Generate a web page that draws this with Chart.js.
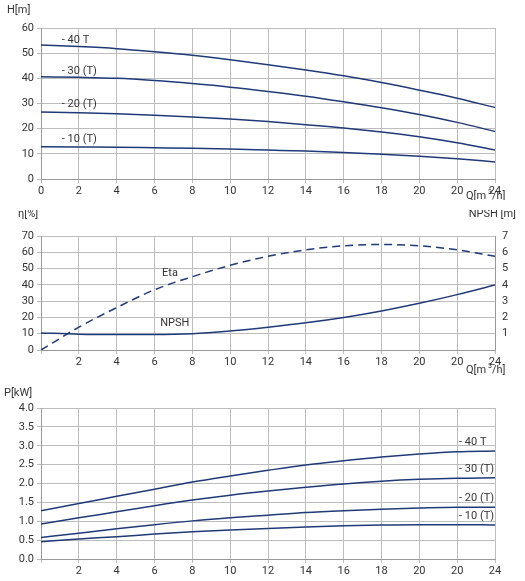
<!DOCTYPE html>
<html><head><meta charset="utf-8">
<script src="https://cdn.jsdelivr.net/npm/chart.js@4"></script>
<style>body{margin:0;background:#fff;width:525px;height:581px;position:relative;overflow:hidden}
.w{position:absolute;left:0;width:525px}</style></head><body>
<div class="w" style="top:0;height:200px"><canvas id="c1"></canvas></div>
<div class="w" style="top:210px;height:175px"><canvas id="c2"></canvas></div>
<div class="w" style="top:385px;height:196px"><canvas id="c3"></canvas></div>
<script>
const q=[0,2,4,6,8,10,12,14,16,18,20,22,24];
const xTicks1=['0','2','4','6','8','10','12','14','16','18','20','20','24'];
const xTicks23=['','2','4','6','8','10','12','14','16','18','20','20','24'];
const seriesNames=['- 40 T','- 30 (T)','- 20 (T)','- 10 (T)'];
const head40=[53.2,52.6,51.8,50.6,49.2,47.4,45.4,43.3,41,38.3,35.3,32.1,28.4];
const head30=[40.6,40.4,40,39.1,37.9,36.5,34.8,32.9,30.7,28.3,25.6,22.5,18.9];
const head20=[26.6,26.3,25.9,25.3,24.6,23.8,22.8,21.6,20.3,18.7,16.8,14.4,11.5];
const head10=[12.8,12.7,12.6,12.4,12.2,11.9,11.5,11.1,10.5,9.8,9.0,8.0,6.8];
const eta=[0,14,26,37,45,52,57.5,61.5,64,64.8,64,61.5,57.5];
const npsh=[1.05,0.97,0.95,0.95,1.0,1.17,1.4,1.67,2.0,2.4,2.87,3.4,4.0];
const pow40=[1.28,1.47,1.66,1.85,2.04,2.2,2.35,2.49,2.6,2.7,2.78,2.84,2.86];
const pow30=[0.93,1.09,1.25,1.41,1.56,1.69,1.8,1.9,1.99,2.06,2.11,2.14,2.15];
const pow20=[0.57,0.68,0.8,0.91,1.01,1.09,1.16,1.23,1.28,1.32,1.35,1.37,1.37];
const pow10=[0.46,0.53,0.59,0.66,0.72,0.77,0.81,0.85,0.88,0.9,0.91,0.91,0.9];

const C='#1f3a78',G='#bdbdbd',T='#333';
Chart.defaults.font.family='Roboto';Chart.defaults.font.size=11;Chart.defaults.color=T;
const pts=a=>a.map((v,i)=>({x:q[i],y:v}));
const ds=(a,extra)=>Object.assign({data:pts(a),borderColor:C,borderWidth:1.5,pointRadius:0,cubicInterpolationMode:'monotone',fill:false},extra||{});
const txt={id:'txt',afterDraw(ch,a,o){const c=ch.ctx;c.save();c.fillStyle=T;c.font='11px Roboto';c.textBaseline='middle';
 (o.items||[]).forEach(it=>{let x=it.px!=null?it.px:ch.scales.x.getPixelForValue(it.x);let y=it.py!=null?it.py:ch.scales[it.ax||'y'].getPixelForValue(it.y);c.textAlign=it.al||'left';
 if(it.sup){c.fillText('Q[m',x,y);c.font='7px Roboto';c.fillText('3',x+22,y-4);c.font='11px Roboto';c.fillText('/h]',x+26,y);}else c.fillText(it.t,x,y);});c.restore();}};
function xScale(labels,h){return {type:'linear',min:0,max:24,afterBuildTicks:s=>{s.ticks=q.map(v=>({value:v}));},
 ticks:{callback:(v,i)=>labels[i],maxRotation:0,autoSkip:false,padding:2},grid:{color:G,drawTicks:true,tickLength:4},border:{color:'#999'},afterFit:s=>{s.height=h;}};}
function yScale(min,max,step,w,fmt,pos,extra){return Object.assign({position:pos||'left',min,max,ticks:{stepSize:step,callback:fmt||(v=>v),padding:3},grid:{color:G,tickLength:4},border:{color:'#999'},afterFit:s=>{s.width=w;}},extra||{});}
const base=(pad)=>({responsive:true,maintainAspectRatio:false,animation:false,layout:{padding:pad},plugins:{legend:{display:false},tooltip:{enabled:false}}});

let o1=base({left:0,right:30,top:28,bottom:0});
o1.scales={x:xScale(xTicks1,21),y:yScale(0,60,10,41)};
o1.plugins.txt={items:[{t:'H[m]',px:7,py:10},
 {t:seriesNames[0],x:1.1,y:55.3},{t:seriesNames[1],x:1.1,y:43},{t:seriesNames[2],x:1.1,y:29.6},{t:seriesNames[3],x:1.1,y:15.8},{sup:1,px:466,py:196}]};
new Chart(c1,{type:'line',data:{datasets:[ds(head40),ds(head30),ds(head20),ds(head10)]},options:o1,plugins:[txt]});

let o2=base({left:0,right:0,top:26,bottom:0});
o2.scales={x:xScale(xTicks23,35),y:yScale(0,70,10,41),
 y2:yScale(0,7,1,30,v=>v===0?'':v,'right',{grid:{display:false,tickLength:4}})};
o2.plugins.txt={items:[{t:'η[%]',px:18,py:4},{t:'NPSH [m]',px:516,py:4,al:'right'},{t:'Eta',x:6.4,y:47},{t:'NPSH',x:6.3,y:16.5},{sup:1,px:466,py:160}]};
new Chart(c2,{type:'line',data:{datasets:[ds(eta,{borderDash:[8,5]}),ds(npsh,{yAxisID:'y2'})]},options:o2,plugins:[txt]});

let o3=base({left:0,right:30,top:23,bottom:0});
o3.scales={x:xScale(xTicks23,22),y:yScale(0,4,0.5,41,v=>v.toFixed(1))};
o3.plugins.txt={items:[{t:'P[kW]',px:4,py:8},{t:seriesNames[0],x:22.1,y:3.08},{t:seriesNames[1],x:22.1,y:2.38},{t:seriesNames[2],x:22.1,y:1.6},{t:seriesNames[3],x:22.1,y:1.13}]};
new Chart(c3,{type:'line',data:{datasets:[ds(pow40),ds(pow30),ds(pow20),ds(pow10)]},options:o3,plugins:[txt]});
</script></body></html>
